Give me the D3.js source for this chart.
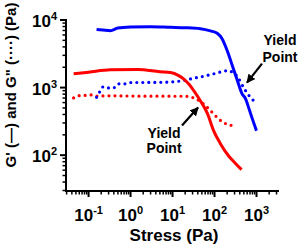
<!DOCTYPE html>
<html><head><meta charset="utf-8">
<script src="https://cdn.jsdelivr.net/npm/d3@7/dist/d3.min.js"></script>
<style>html,body{margin:0;padding:0;background:#fff}svg{display:block}</style>
</head><body>
<svg id="c" width="300" height="246"></svg>
<script>
// Data
const blueGpX = [0.155, 0.22, 0.33, 0.5, 1, 3, 9, 20, 46, 80, 118, 150, 200, 270, 350, 450, 550, 650, 750, 1000];
const blueGpY = [7230, 7100, 6950, 7600, 7850, 7950, 7800, 7700, 7450, 6900, 6300, 5320, 3530, 2050, 1270, 815, 680, 505, 385, 230];
const blueGppX = [0.155, 0.186, 0.228, 0.3, 0.394, 0.518, 0.72, 1, 5.2, 18.3, 31.6, 55, 95, 155, 204, 267, 350, 490, 610, 720, 945];
const blueGppY = [718, 873, 1035, 990, 990, 1135, 1135, 1186, 1195, 1270, 1375, 1470, 1597, 1726, 1785, 1687, 1456, 1010, 815, 718, 603];
const redGpX = [0.044, 0.1, 0.33, 1.5, 5, 9, 14, 18, 25, 32, 46, 68, 95, 138, 215, 300, 440];
const redGpY = [1600, 1690, 1830, 1850, 1720, 1670, 1505, 1360, 1110, 900, 640, 412, 231, 148, 98, 78, 61];
const redGppX = [0.044, 0.061, 0.085, 0.118, 0.155, 0.3, 1, 3, 9, 20, 35, 61, 89, 124, 163, 228, 316];
const redGppY = [703, 761, 765, 780, 750, 755, 750, 745, 745, 744, 687, 541, 426, 347, 303, 283, 255];
const xTickVals = [0.1, 1, 10, 100, 1000];
const xTickExp = ["-1", "0", "1", "2", "3"];
const yTickVals = [100, 1000, 10000];
const yTickExp = ["2", "3", "4"];
const xTitle = "Stress (Pa)";
const yTitle = "G' (—) and G\" (····) (Pa)";
// annotations: [tailX, tailY, tipX, tipY, textX, textY1, textY2]
const annRight = [1352, 2265, 594, 1186, 3630, 4325, 2420];
const annLeft = [16.8, 274, 40.5, 506, 6.28, 182, 106];
const annText = ["Yield", "Point"];

const svg = d3.select("#c");
const font = "Arial, 'Liberation Sans', sans-serif";
const x = d3.scaleLog().domain([0.029, 3435]).range([66, 279]);
const y = d3.scaleLog().domain([29.5, 10000]).range([191, 20]);

svg.append("defs").append("marker").attr("id","ah").attr("viewBox","0 0 10 10")
  .attr("refX",9).attr("refY",5).attr("markerWidth",4).attr("markerHeight",4)
  .attr("orient","auto").append("path").attr("d","M0,0L10,5L0,10z").attr("fill","#000");

// minor ticks
function minors(lo, hi){ const r=[]; for(let e=Math.floor(Math.log10(lo)); e<=Math.ceil(Math.log10(hi)); e++){ for(let m=1;m<10;m++){ const v=m*Math.pow(10,e); if(v>=lo*0.999 && v<=hi*1.001) r.push(v);} } return r; }

const gx = svg.append("g");
minors(0.029, 3435).forEach(v=>{
  const major = Math.abs(Math.log10(v)-Math.round(Math.log10(v)))<1e-9;
  gx.append("line").attr("x1",x(v)).attr("x2",x(v)).attr("y1",191).attr("y2",191+(major?6:3.5))
    .attr("stroke","#000").attr("stroke-width",major?2:1.5);
});
const gy = svg.append("g");
minors(29.5, 10000).forEach(v=>{
  const major = Math.abs(Math.log10(v)-Math.round(Math.log10(v)))<1e-9;
  gy.append("line").attr("y1",y(v)).attr("y2",y(v)).attr("x1",66).attr("x2",66-(major?6:3.5))
    .attr("stroke","#000").attr("stroke-width",major?2:1.5);
});
svg.append("line").attr("x1",65).attr("x2",279).attr("y1",191).attr("y2",191).attr("stroke","#000").attr("stroke-width",2);
svg.append("line").attr("x1",66).attr("x2",66).attr("y1",y(10000)-1).attr("y2",192).attr("stroke","#000").attr("stroke-width",2);

xTickVals.forEach((v,i)=>{
  const t = svg.append("text").attr("x",x(v)).attr("y",221).attr("text-anchor","middle")
    .attr("font-family",font).attr("font-weight","bold").attr("font-size",17);
  t.append("tspan").text("10");
  t.append("tspan").attr("dy",-7).attr("font-size",11).text(xTickExp[i]);
});
yTickVals.forEach((v,i)=>{
  const t = svg.append("text").attr("x",57).attr("y",y(v)+7).attr("text-anchor","end")
    .attr("font-family",font).attr("font-weight","bold").attr("font-size",17);
  t.append("tspan").text("10");
  t.append("tspan").attr("dy",-7).attr("font-size",11).text(yTickExp[i]);
});
svg.append("text").attr("x",174).attr("y",241).attr("text-anchor","middle")
  .attr("font-family",font).attr("font-weight","bold").attr("font-size",17).text(xTitle);
svg.append("text").attr("transform","translate(16,85) rotate(-90)").attr("text-anchor","middle")
  .attr("font-family",font).attr("font-weight","bold").attr("font-size",15).text(yTitle);

const lineS = d3.line().x(d=>x(d[0])).y(d=>y(d[1])).curve(d3.curveMonotoneX);
const lineD = d3.line().x(d=>x(d[0])).y(d=>y(d[1])).curve(d3.curveMonotoneX);
function zip(a,b){return a.map((v,i)=>[v,b[i]]);}
svg.append("path").attr("d",lineD(zip(redGppX,redGppY))).attr("fill","none").attr("stroke","#ff0000")
  .attr("stroke-width",3.2).attr("stroke-linecap","round").attr("stroke-dasharray","0 6");
svg.append("path").attr("d",lineD(zip(blueGppX,blueGppY))).attr("fill","none").attr("stroke","#0000ff")
  .attr("stroke-width",3.2).attr("stroke-linecap","round").attr("stroke-dasharray","0 6");
svg.append("path").attr("d",lineS(zip(redGpX,redGpY))).attr("fill","none").attr("stroke","#ff0000").attr("stroke-width",3);
svg.append("path").attr("d",lineS(zip(blueGpX,blueGpY))).attr("fill","none").attr("stroke","#0000ff").attr("stroke-width",3);

function annot(a){
  svg.append("line").attr("x1",x(a[0])).attr("y1",y(a[1])).attr("x2",x(a[2])).attr("y2",y(a[3]))
    .attr("stroke","#000").attr("stroke-width",2.2).attr("marker-end","url(#ah)");
  [a[5],a[6]].forEach((yy,i)=>{
    svg.append("text").attr("x",x(a[4])).attr("y",y(yy)).attr("text-anchor","middle")
      .attr("font-family",font).attr("font-weight","bold").attr("font-size",14).text(annText[i]);
  });
}
annot(annRight);
annot(annLeft);
</script>
</body></html>
